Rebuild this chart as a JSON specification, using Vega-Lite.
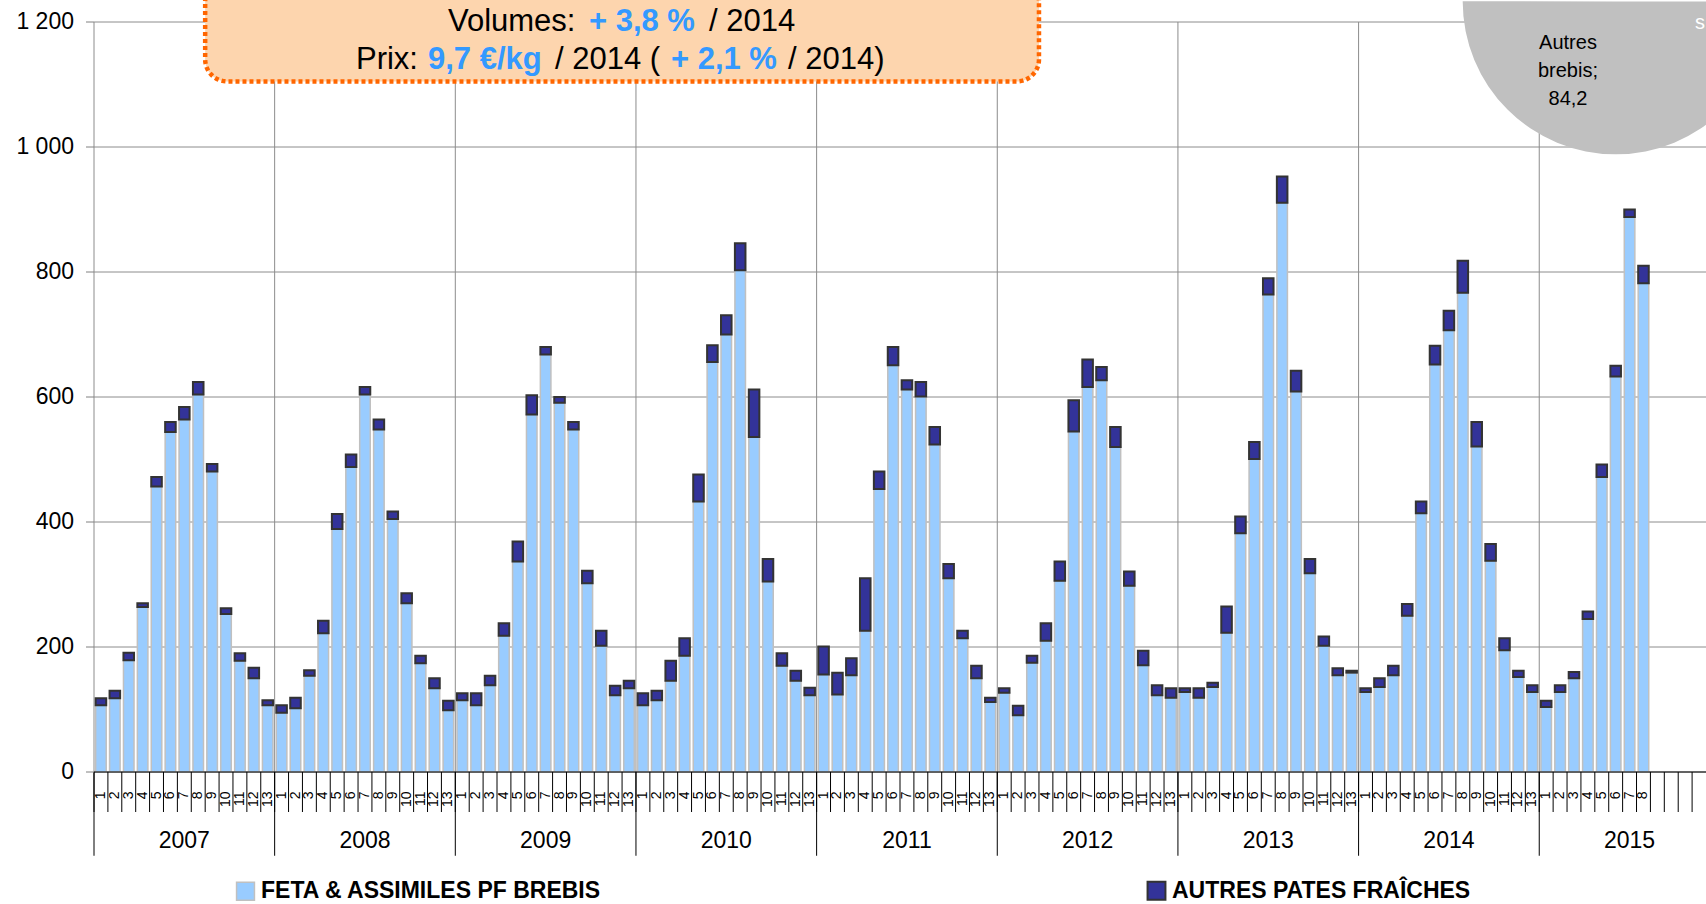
{
  "$schema": "https://vega.github.io/schema/vega-lite/v6.json",
  "width": 1612,
  "height": 750,
  "autosize": {"type": "none"},
  "padding": {"left": 94, "top": 22, "right": 0, "bottom": 132},
  "background": "white",
  "config": {"font": "Liberation Sans", "view": {"stroke": null}},
  "datasets": {
    "bars": [
      {"k":"2007-01","f":107,"a":11},{"k":"2007-02","f":118,"a":12},{"k":"2007-03","f":179,"a":12},{"k":"2007-04","f":264,"a":6},{"k":"2007-05","f":457,"a":15},{"k":"2007-06","f":544,"a":16},{"k":"2007-07","f":564,"a":20},{"k":"2007-08","f":604,"a":20},{"k":"2007-09","f":481,"a":12},{"k":"2007-10","f":253,"a":9},{"k":"2007-11","f":178,"a":12},{"k":"2007-12","f":150,"a":17},{"k":"2007-13","f":107,"a":8},
      {"k":"2008-01","f":95,"a":12},{"k":"2008-02","f":102,"a":17},{"k":"2008-03","f":154,"a":9},{"k":"2008-04","f":222,"a":20},{"k":"2008-05","f":389,"a":24},{"k":"2008-06","f":488,"a":20},{"k":"2008-07","f":604,"a":12},{"k":"2008-08","f":548,"a":16},{"k":"2008-09","f":405,"a":12},{"k":"2008-10","f":270,"a":16},{"k":"2008-11","f":174,"a":12},{"k":"2008-12","f":134,"a":16},{"k":"2008-13","f":99,"a":15},
      {"k":"2009-01","f":115,"a":11},{"k":"2009-02","f":107,"a":19},{"k":"2009-03","f":139,"a":15},{"k":"2009-04","f":218,"a":20},{"k":"2009-05","f":337,"a":32},{"k":"2009-06","f":572,"a":31},{"k":"2009-07","f":668,"a":12},{"k":"2009-08","f":591,"a":9},{"k":"2009-09","f":548,"a":12},{"k":"2009-10","f":302,"a":20},{"k":"2009-11","f":202,"a":24},{"k":"2009-12","f":123,"a":15},{"k":"2009-13","f":134,"a":12},
      {"k":"2010-01","f":107,"a":19},{"k":"2010-02","f":115,"a":15},{"k":"2010-03","f":146,"a":32},{"k":"2010-04","f":186,"a":28},{"k":"2010-05","f":433,"a":43},{"k":"2010-06","f":656,"a":27},{"k":"2010-07","f":700,"a":31},{"k":"2010-08","f":803,"a":43},{"k":"2010-09","f":536,"a":76},{"k":"2010-10","f":305,"a":36},{"k":"2010-11","f":170,"a":20},{"k":"2010-12","f":146,"a":16},{"k":"2010-13","f":123,"a":12},
      {"k":"2011-01","f":156,"a":45},{"k":"2011-02","f":124,"a":35},{"k":"2011-03","f":155,"a":27},{"k":"2011-04","f":226,"a":84},{"k":"2011-05","f":453,"a":28},{"k":"2011-06","f":651,"a":29},{"k":"2011-07","f":612,"a":15},{"k":"2011-08","f":601,"a":23},{"k":"2011-09","f":524,"a":28},{"k":"2011-10","f":310,"a":23},{"k":"2011-11","f":214,"a":12},{"k":"2011-12","f":150,"a":20},{"k":"2011-13","f":112,"a":7},
      {"k":"2012-01","f":127,"a":7},{"k":"2012-02","f":91,"a":15},{"k":"2012-03","f":175,"a":11},{"k":"2012-04","f":210,"a":28},{"k":"2012-05","f":306,"a":31},{"k":"2012-06","f":545,"a":50},{"k":"2012-07","f":616,"a":44},{"k":"2012-08","f":627,"a":21},{"k":"2012-09","f":520,"a":32},{"k":"2012-10","f":298,"a":23},{"k":"2012-11","f":171,"a":23},{"k":"2012-12","f":123,"a":16},{"k":"2012-13","f":119,"a":15},
      {"k":"2013-01","f":128,"a":6},{"k":"2013-02","f":119,"a":15},{"k":"2013-03","f":136,"a":7},{"k":"2013-04","f":223,"a":42},{"k":"2013-05","f":382,"a":27},{"k":"2013-06","f":501,"a":27},{"k":"2013-07","f":764,"a":26},{"k":"2013-08","f":911,"a":42},{"k":"2013-09","f":609,"a":33},{"k":"2013-10","f":318,"a":23},{"k":"2013-11","f":202,"a":15},{"k":"2013-12","f":155,"a":11},{"k":"2013-13","f":159,"a":3},
      {"k":"2014-01","f":128,"a":6},{"k":"2014-02","f":136,"a":14},{"k":"2014-03","f":155,"a":15},{"k":"2014-04","f":250,"a":19},{"k":"2014-05","f":414,"a":19},{"k":"2014-06","f":652,"a":30},{"k":"2014-07","f":707,"a":31},{"k":"2014-08","f":767,"a":51},{"k":"2014-09","f":521,"a":39},{"k":"2014-10","f":338,"a":27},{"k":"2014-11","f":195,"a":19},{"k":"2014-12","f":152,"a":10},{"k":"2014-13","f":128,"a":11},
      {"k":"2015-01","f":104,"a":10},{"k":"2015-02","f":128,"a":11},{"k":"2015-03","f":150,"a":10},{"k":"2015-04","f":245,"a":12},{"k":"2015-05","f":472,"a":20},{"k":"2015-06","f":633,"a":17},{"k":"2015-07","f":888,"a":12},{"k":"2015-08","f":782,"a":28}
    ],
    "slots": [
      {"k":"2007-01","p":"1"},{"k":"2007-02","p":"2"},{"k":"2007-03","p":"3"},{"k":"2007-04","p":"4"},{"k":"2007-05","p":"5"},{"k":"2007-06","p":"6"},{"k":"2007-07","p":"7"},{"k":"2007-08","p":"8"},{"k":"2007-09","p":"9"},{"k":"2007-10","p":"10"},{"k":"2007-11","p":"11"},{"k":"2007-12","p":"12"},{"k":"2007-13","p":"13"},
      {"k":"2008-01","p":"1"},{"k":"2008-02","p":"2"},{"k":"2008-03","p":"3"},{"k":"2008-04","p":"4"},{"k":"2008-05","p":"5"},{"k":"2008-06","p":"6"},{"k":"2008-07","p":"7"},{"k":"2008-08","p":"8"},{"k":"2008-09","p":"9"},{"k":"2008-10","p":"10"},{"k":"2008-11","p":"11"},{"k":"2008-12","p":"12"},{"k":"2008-13","p":"13"},
      {"k":"2009-01","p":"1"},{"k":"2009-02","p":"2"},{"k":"2009-03","p":"3"},{"k":"2009-04","p":"4"},{"k":"2009-05","p":"5"},{"k":"2009-06","p":"6"},{"k":"2009-07","p":"7"},{"k":"2009-08","p":"8"},{"k":"2009-09","p":"9"},{"k":"2009-10","p":"10"},{"k":"2009-11","p":"11"},{"k":"2009-12","p":"12"},{"k":"2009-13","p":"13"},
      {"k":"2010-01","p":"1"},{"k":"2010-02","p":"2"},{"k":"2010-03","p":"3"},{"k":"2010-04","p":"4"},{"k":"2010-05","p":"5"},{"k":"2010-06","p":"6"},{"k":"2010-07","p":"7"},{"k":"2010-08","p":"8"},{"k":"2010-09","p":"9"},{"k":"2010-10","p":"10"},{"k":"2010-11","p":"11"},{"k":"2010-12","p":"12"},{"k":"2010-13","p":"13"},
      {"k":"2011-01","p":"1"},{"k":"2011-02","p":"2"},{"k":"2011-03","p":"3"},{"k":"2011-04","p":"4"},{"k":"2011-05","p":"5"},{"k":"2011-06","p":"6"},{"k":"2011-07","p":"7"},{"k":"2011-08","p":"8"},{"k":"2011-09","p":"9"},{"k":"2011-10","p":"10"},{"k":"2011-11","p":"11"},{"k":"2011-12","p":"12"},{"k":"2011-13","p":"13"},
      {"k":"2012-01","p":"1"},{"k":"2012-02","p":"2"},{"k":"2012-03","p":"3"},{"k":"2012-04","p":"4"},{"k":"2012-05","p":"5"},{"k":"2012-06","p":"6"},{"k":"2012-07","p":"7"},{"k":"2012-08","p":"8"},{"k":"2012-09","p":"9"},{"k":"2012-10","p":"10"},{"k":"2012-11","p":"11"},{"k":"2012-12","p":"12"},{"k":"2012-13","p":"13"},
      {"k":"2013-01","p":"1"},{"k":"2013-02","p":"2"},{"k":"2013-03","p":"3"},{"k":"2013-04","p":"4"},{"k":"2013-05","p":"5"},{"k":"2013-06","p":"6"},{"k":"2013-07","p":"7"},{"k":"2013-08","p":"8"},{"k":"2013-09","p":"9"},{"k":"2013-10","p":"10"},{"k":"2013-11","p":"11"},{"k":"2013-12","p":"12"},{"k":"2013-13","p":"13"},
      {"k":"2014-01","p":"1"},{"k":"2014-02","p":"2"},{"k":"2014-03","p":"3"},{"k":"2014-04","p":"4"},{"k":"2014-05","p":"5"},{"k":"2014-06","p":"6"},{"k":"2014-07","p":"7"},{"k":"2014-08","p":"8"},{"k":"2014-09","p":"9"},{"k":"2014-10","p":"10"},{"k":"2014-11","p":"11"},{"k":"2014-12","p":"12"},{"k":"2014-13","p":"13"},
      {"k":"2015-01","p":"1"},{"k":"2015-02","p":"2"},{"k":"2015-03","p":"3"},{"k":"2015-04","p":"4"},{"k":"2015-05","p":"5"},{"k":"2015-06","p":"6"},{"k":"2015-07","p":"7"},{"k":"2015-08","p":"8"},{"k":"2015-09","p":""},{"k":"2015-10","p":""},{"k":"2015-11","p":""},{"k":"2015-12","p":""}
    ],
    "years": [
      {"yr":"2007","k":"2007-01","m":"2007-07"},{"yr":"2008","k":"2008-01","m":"2008-07"},{"yr":"2009","k":"2009-01","m":"2009-07"},{"yr":"2010","k":"2010-01","m":"2010-07"},{"yr":"2011","k":"2011-01","m":"2011-07"},{"yr":"2012","k":"2012-01","m":"2012-07"},{"yr":"2013","k":"2013-01","m":"2013-07"},{"yr":"2014","k":"2014-01","m":"2014-07"},{"yr":"2015","k":"2015-01","m":"2015-07"}
    ],
    "yt": [{"t":0,"lab":"0"},{"t":200,"lab":"200"},{"t":400,"lab":"400"},{"t":600,"lab":"600"},{"t":800,"lab":"800"},{"t":1000,"lab":"1 000"},{"t":1200,"lab":"1 200"}]
  },
  "layer": [
    {
      "data": {"name": "yt"},
      "mark": {"type": "rule", "color": "#8c8c8c", "strokeWidth": 1},
      "encoding": {
        "y": {"field": "t", "type": "quantitative", "axis": null, "scale": {"domain": [0, 1200], "nice": false}}
      }
    },
    {
      "data": {"name": "years"},
      "mark": {"type": "rule", "color": "#8c8c8c", "strokeWidth": 1},
      "encoding": {
        "x": {"field": "k", "type": "ordinal", "bandPosition": 0, "axis": null,
          "scale": {
            "paddingInner": 0, "paddingOuter": 0,
            "domain": ["2007-01","2007-02","2007-03","2007-04","2007-05","2007-06","2007-07","2007-08","2007-09","2007-10","2007-11","2007-12","2007-13",
                       "2008-01","2008-02","2008-03","2008-04","2008-05","2008-06","2008-07","2008-08","2008-09","2008-10","2008-11","2008-12","2008-13",
                       "2009-01","2009-02","2009-03","2009-04","2009-05","2009-06","2009-07","2009-08","2009-09","2009-10","2009-11","2009-12","2009-13",
                       "2010-01","2010-02","2010-03","2010-04","2010-05","2010-06","2010-07","2010-08","2010-09","2010-10","2010-11","2010-12","2010-13",
                       "2011-01","2011-02","2011-03","2011-04","2011-05","2011-06","2011-07","2011-08","2011-09","2011-10","2011-11","2011-12","2011-13",
                       "2012-01","2012-02","2012-03","2012-04","2012-05","2012-06","2012-07","2012-08","2012-09","2012-10","2012-11","2012-12","2012-13",
                       "2013-01","2013-02","2013-03","2013-04","2013-05","2013-06","2013-07","2013-08","2013-09","2013-10","2013-11","2013-12","2013-13",
                       "2014-01","2014-02","2014-03","2014-04","2014-05","2014-06","2014-07","2014-08","2014-09","2014-10","2014-11","2014-12","2014-13",
                       "2015-01","2015-02","2015-03","2015-04","2015-05","2015-06","2015-07","2015-08","2015-09","2015-10","2015-11","2015-12"]
          }},
        "y": {"datum": 0, "type": "quantitative", "axis": null},
        "y2": {"datum": 1200}
      }
    },
    {
      "data": {"name": "bars"},
      "transform": [{"fold": ["f", "a"], "as": ["s", "v"]}],
      "mark": {"type": "bar", "width": {"band": 0.76}},
      "encoding": {
        "x": {"field": "k", "type": "ordinal", "axis": null},
        "y": {"field": "v", "type": "quantitative", "stack": "zero", "axis": null},
        "color": {
          "field": "s", "type": "nominal",
          "scale": {"domain": ["f", "a"], "range": ["#99CCFF", "#333399"]},
          "legend": {
            "title": null,
            "orient": "none",
            "legendX": 140,
            "legendY": 857,
            "direction": "horizontal",
            "columnPadding": 541,
            "labelFont": "Liberation Sans",
            "labelFontSize": 23,
            "labelFontWeight": "bold",
            "labelColor": "black",
            "labelLimit": 800,
            "labelOffset": 4,
            "symbolType": "square",
            "symbolSize": 320,
            "symbolStrokeWidth": 2,
            "labelExpr": "datum.value == 'f' ? 'FETA & ASSIMILES PF BREBIS' : 'AUTRES PATES FRAÎCHES'"
          }
        },
        "stroke": {
          "field": "s", "type": "nominal",
          "scale": {"domain": ["f", "a"], "range": ["#C0C0C0", "#333333"]}
        },
        "strokeWidth": {
          "field": "s", "type": "nominal",
          "scale": {"domain": ["f", "a"], "range": [1.5, 2]},
          "legend": null
        },
        "order": {"field": "s", "sort": "descending"}
      }
    },
    {
      "data": {"name": "slots"},
      "mark": {"type": "rule", "color": "black", "strokeWidth": 1},
      "encoding": {
        "x": {"field": "k", "type": "ordinal", "bandPosition": 0, "axis": null},
        "y": {"datum": 0, "type": "quantitative", "axis": null},
        "y2": {"datum": -64}
      }
    },
    {
      "data": {"name": "years"},
      "mark": {"type": "rule", "color": "black", "strokeWidth": 1},
      "encoding": {
        "x": {"field": "k", "type": "ordinal", "bandPosition": 0, "axis": null},
        "y": {"datum": 0, "type": "quantitative", "axis": null},
        "y2": {"datum": -134}
      }
    },
    {
      "data": {"values": [{}]},
      "mark": {"type": "rule", "color": "black", "strokeWidth": 1},
      "encoding": {
        "y": {"datum": 0, "type": "quantitative", "axis": null}
      }
    },
    {
      "data": {"name": "slots"},
      "mark": {"type": "text", "fontSize": 14, "color": "black", "angle": 270, "align": "right", "baseline": "middle"},
      "encoding": {
        "x": {"field": "k", "type": "ordinal", "axis": null},
        "y": {"datum": -31, "type": "quantitative", "axis": null},
        "text": {"field": "p"}
      }
    },
    {
      "data": {"name": "yt"},
      "mark": {"type": "rule", "color": "#808080", "strokeWidth": 1, "xOffset": -8},
      "encoding": {
        "x": {"datum": "2007-01", "type": "ordinal", "bandPosition": 0, "axis": null},
        "x2": {"datum": "2007-01", "bandPosition": 0},
        "y": {"field": "t", "type": "quantitative", "axis": null}
      }
    },
    {
      "data": {"name": "yt"},
      "mark": {"type": "text", "fontSize": 23, "color": "black", "align": "right", "baseline": "middle", "dx": -20},
      "encoding": {
        "x": {"datum": "2007-01", "type": "ordinal", "bandPosition": 0, "axis": null},
        "y": {"field": "t", "type": "quantitative", "axis": null},
        "text": {"field": "lab"}
      }
    },
    {
      "data": {"name": "years"},
      "mark": {"type": "text", "fontSize": 23, "color": "black", "baseline": "middle", "align": "center"},
      "encoding": {
        "x": {"field": "m", "type": "ordinal", "axis": null},
        "y": {"datum": -110, "type": "quantitative", "axis": null},
        "text": {"field": "yr"}
      }
    },
    {
      "data": {"values": [{}]},
      "mark": {"type": "rect", "fill": "#FDD5AE", "stroke": "#FF6600", "strokeWidth": 4.5, "strokeDash": [4, 3], "cornerRadius": 22},
      "encoding": {
        "x": {"datum": "2007-09", "type": "ordinal", "bandPosition": 0, "axis": null},
        "x2": {"datum": "2012-04", "bandPosition": 0},
        "y": {"datum": 1268, "type": "quantitative", "axis": null},
        "y2": {"datum": 1105}
      }
    },
    {
      "data": {"values": [{}]},
      "mark": {"type": "text", "fontSize": 31, "color": "black", "align": "left", "baseline": "middle", "dx": 347},
      "encoding": {"x": {"datum": "2007-01", "type": "ordinal", "axis": null}, "y": {"datum": 1200, "type": "quantitative", "axis": null}, "text": {"value": "Volumes:"}}
    },
    {
      "data": {"values": [{}]},
      "mark": {"type": "text", "fontSize": 31, "fontWeight": "bold", "color": "#3399FF", "align": "left", "baseline": "middle", "dx": 488},
      "encoding": {"x": {"datum": "2007-01", "type": "ordinal", "axis": null}, "y": {"datum": 1200, "type": "quantitative", "axis": null}, "text": {"value": "+ 3,8 %"}}
    },
    {
      "data": {"values": [{}]},
      "mark": {"type": "text", "fontSize": 31, "color": "black", "align": "left", "baseline": "middle", "dx": 608},
      "encoding": {"x": {"datum": "2007-01", "type": "ordinal", "axis": null}, "y": {"datum": 1200, "type": "quantitative", "axis": null}, "text": {"value": "/ 2014"}}
    },
    {
      "data": {"values": [{}]},
      "mark": {"type": "text", "fontSize": 31, "color": "black", "align": "left", "baseline": "middle", "dx": 255},
      "encoding": {"x": {"datum": "2007-01", "type": "ordinal", "axis": null}, "y": {"datum": 1140, "type": "quantitative", "axis": null}, "text": {"value": "Prix:"}}
    },
    {
      "data": {"values": [{}]},
      "mark": {"type": "text", "fontSize": 31, "fontWeight": "bold", "color": "#3399FF", "align": "left", "baseline": "middle", "dx": 327},
      "encoding": {"x": {"datum": "2007-01", "type": "ordinal", "axis": null}, "y": {"datum": 1140, "type": "quantitative", "axis": null}, "text": {"value": "9,7 €/kg"}}
    },
    {
      "data": {"values": [{}]},
      "mark": {"type": "text", "fontSize": 31, "color": "black", "align": "left", "baseline": "middle", "dx": 454},
      "encoding": {"x": {"datum": "2007-01", "type": "ordinal", "axis": null}, "y": {"datum": 1140, "type": "quantitative", "axis": null}, "text": {"value": "/ 2014 ("}}
    },
    {
      "data": {"values": [{}]},
      "mark": {"type": "text", "fontSize": 31, "fontWeight": "bold", "color": "#3399FF", "align": "left", "baseline": "middle", "dx": 570},
      "encoding": {"x": {"datum": "2007-01", "type": "ordinal", "axis": null}, "y": {"datum": 1140, "type": "quantitative", "axis": null}, "text": {"value": "+ 2,1 %"}}
    },
    {
      "data": {"values": [{}]},
      "mark": {"type": "text", "fontSize": 31, "color": "black", "align": "left", "baseline": "middle", "dx": 687},
      "encoding": {"x": {"datum": "2007-01", "type": "ordinal", "axis": null}, "y": {"datum": 1140, "type": "quantitative", "axis": null}, "text": {"value": "/ 2014)"}}
    },
    {
      "data": {"values": [{}]},
      "mark": {"type": "arc", "outerRadius": 153, "theta": 1.5708, "theta2": 4.7124, "fill": "#C0C0C0"},
      "encoding": {
        "x": {"datum": "2015-06", "type": "ordinal", "axis": null},
        "y": {"datum": 1233, "type": "quantitative", "axis": null}
      }
    },
    {
      "data": {"values": [{}]},
      "mark": {"type": "text", "fontSize": 20, "color": "black", "align": "center", "baseline": "middle", "lineHeight": 28, "dx": -6},
      "encoding": {
        "x": {"datum": "2015-03", "type": "ordinal", "axis": null},
        "y": {"datum": 1166, "type": "quantitative", "axis": null},
        "text": {"value": ["Autres", "brebis;", "84,2"]}
      }
    },
    {
      "data": {"values": [{}]},
      "mark": {"type": "text", "fontSize": 20, "color": "white", "align": "left", "baseline": "middle", "dx": -4},
      "encoding": {
        "x": {"datum": "2015-12", "type": "ordinal", "axis": null},
        "y": {"datum": 1198, "type": "quantitative", "axis": null},
        "text": {"value": "s"}
      }
    }
  ]
}
